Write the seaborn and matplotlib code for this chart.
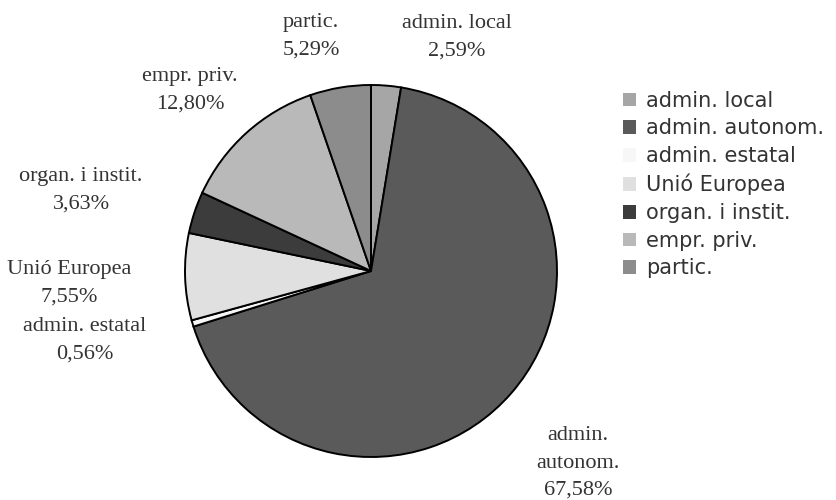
import matplotlib
matplotlib.use("Agg")
import matplotlib.pyplot as plt
import seaborn as sns

# --- data ---------------------------------------------------
categories = ["admin. local", "admin. autonom.", "admin. estatal",
              "Unió Europea", "organ. i instit.", "empr. priv.", "partic."]
shares = [2.59, 67.58, 0.56, 7.55, 3.63, 12.80, 5.29]
pct_labels = ["2,59%", "67,58%", "0,56%", "7,55%", "3,63%", "12,80%", "5,29%"]
slice_labels = ["admin. local", "admin.\nautonom.", "admin. estatal",
                "Unió Europea", "organ. i instit.", "empr. priv.", "partic."]
grays = ["#a6a6a6", "#5a5a5a", "#f7f7f7", "#e0e0e0", "#3c3c3c", "#b9b9b9", "#8c8c8c"]

# label spots in pixels (x, y from top) -- placed by eye
label_px = [(457, 37), (578, 463), (85, 340), (69, 283), (81, 190), (190, 90), (311, 36)]

# --- setup --------------------------------------------------
sns.set_theme(style="white")
palette = sns.color_palette(grays)

W, H = 837, 500
cx, cy, r = 371, 271, 186
fig = plt.figure(figsize=(W / 100, H / 100), dpi=100)
ax = fig.add_axes([0, 0, 1, 1])

wedges, _ = ax.pie(shares, colors=palette, startangle=90, counterclock=False,
                   radius=1, wedgeprops=dict(edgecolor="black", linewidth=1.4))
ax.set_xlim(-cx / r, (W - cx) / r)
ax.set_ylim(-(H - cy) / r, cy / r)
ax.set_aspect("equal")
ax.axis("off")

for (px, py), name, pct in zip(label_px, slice_labels, pct_labels):
    ax.text((px - cx) / r, (cy - py) / r, f"{name}\n{pct}", ha="center", va="center",
            fontsize=16, family="Liberation Serif", color="#333333", linespacing=1.6)

leg = ax.legend(wedges, categories, loc="upper left",
                bbox_to_anchor=(604 / W, 1 - 72 / H), frameon=False,
                handlelength=0.63, handleheight=0.63,
                handletextpad=0.5, labelspacing=0.37,
                prop={"family": "DejaVu Sans", "size": 15})
for t in leg.get_texts():
    t.set_color("#333333")
for h in leg.legend_handles:
    h.set_edgecolor("none")

fig.savefig("out.png", dpi=100)
